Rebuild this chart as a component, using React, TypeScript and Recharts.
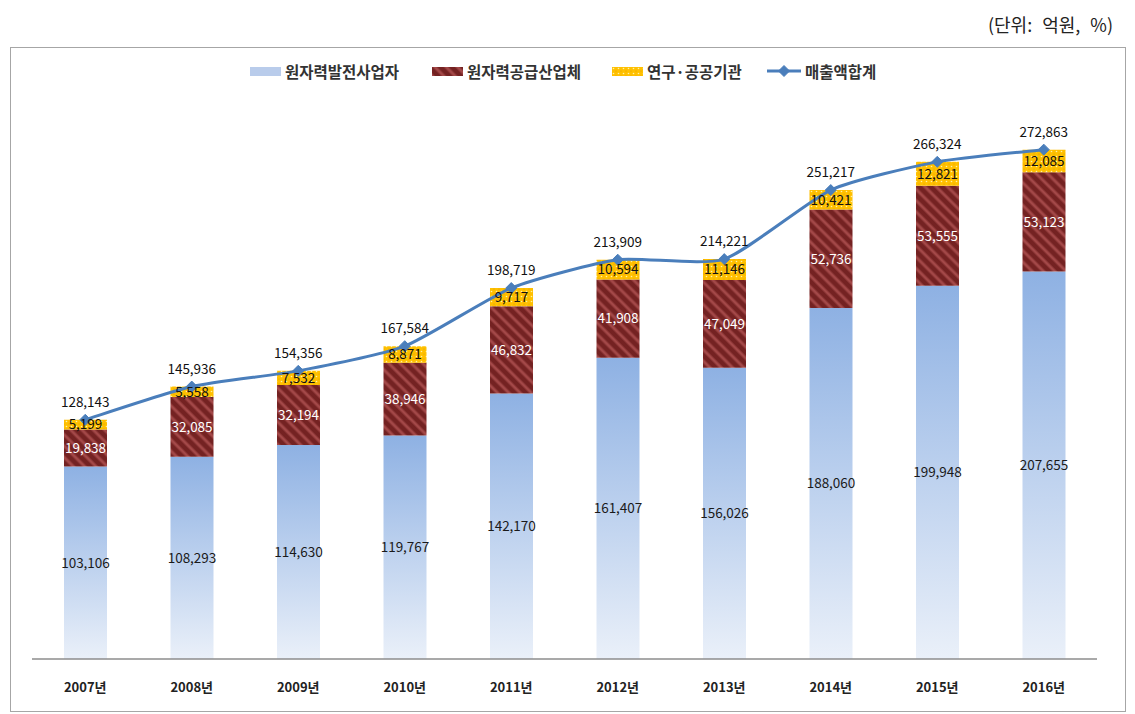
import * as React from 'react';
import {
  ComposedChart, Bar, Line, XAxis, YAxis, LabelList,
} from 'recharts';

// 원자력산업 매출액 추이 (단위: 억원)
const years = ['2007년', '2008년', '2009년', '2010년', '2011년', '2012년', '2013년', '2014년', '2015년', '2016년'];
const generation = [103106, 108293, 114630, 119767, 142170, 161407, 156026, 188060, 199948, 207655];
const supply = [19838, 32085, 32194, 38946, 46832, 41908, 47049, 52736, 53555, 53123];
const research = [5199, 5558, 7532, 8871, 9717, 10594, 11146, 10421, 12821, 12085];
const totals = [128143, 145936, 154356, 167584, 198719, 213909, 214221, 251217, 266324, 272863];

const seriesNames = ['원자력발전사업자', '원자력공급산업체', '연구·공공기관', '매출액합계'];

const data = years.map((y, i) => ({
  year: y,
  generation: generation[i],
  supply: supply[i],
  research: research[i],
  total: totals[i],
}));

const FONT = '"Noto Sans CJK KR", "Noto Sans", sans-serif';
const LINE = '#4a7ebb';
const fmt = (v: any) => Number(v).toLocaleString('en-US');

// Excel-style "smoothed line": softened Catmull-Rom through every point
const smoothCurve = (context: any) => {
  let pts: [number, number][] = [];
  return {
    areaStart() {},
    areaEnd() {},
    lineStart() { pts = []; },
    point(x: number, y: number) { pts.push([+x, +y]); },
    lineEnd() {
      const n = pts.length;
      if (!n) return;
      context.moveTo(pts[0][0], pts[0][1]);
      const k = 0.1;
      for (let i = 0; i < n - 1; i++) {
        const p0 = pts[Math.max(i - 1, 0)];
        const p1 = pts[i];
        const p2 = pts[i + 1];
        const p3 = pts[Math.min(i + 2, n - 1)];
        context.bezierCurveTo(
          p1[0] + k * (p2[0] - p0[0]), p1[1] + k * (p2[1] - p0[1]),
          p2[0] - k * (p3[0] - p1[0]), p2[1] - k * (p3[1] - p1[1]),
          p2[0], p2[1],
        );
      }
    },
  };
};

const Diamond = (props: any) => {
  const { cx, cy } = props;
  if (cx == null || cy == null) return null;
  const r = 5.5;
  return (
    <polygon
      points={`${cx},${cy - r} ${cx + r},${cy} ${cx},${cy + r} ${cx - r},${cy}`}
      fill={LINE}
      stroke={LINE}
      strokeWidth={1}
    />
  );
};

function Patterns({ prefix }: { prefix: string }) {
  return (
    <defs>
      <linearGradient id={`${prefix}-blue`} x1="0" y1="0" x2="0" y2="1">
        <stop offset="0%" stopColor="#8eb1e3" />
        <stop offset="100%" stopColor="#eaf0f9" />
      </linearGradient>
      <pattern id={`${prefix}-hatch`} width="8" height="8" patternUnits="userSpaceOnUse" patternTransform="rotate(-45)">
        <rect width="8" height="8" fill="#742222" />
        <line x1="2" y1="0" x2="2" y2="8" stroke="#a34848" strokeWidth="3" />
      </pattern>
      <pattern id={`${prefix}-dots`} width="5" height="5" patternUnits="userSpaceOnUse">
        <rect width="5" height="5" fill="#ffc000" />
        <circle cx="1.5" cy="1.5" r="0.8" fill="#fff1a8" />
        <circle cx="4" cy="4" r="0.6" fill="#e09a00" />
      </pattern>
    </defs>
  );
}

function LegendSwatch({ kind }: { kind: 'blue' | 'hatch' | 'dots' }) {
  return (
    <svg width={31} height={9} style={{ display: 'block' }}>
      <Patterns prefix={`lg-${kind}`} />
      <rect width={31} height={9} fill={kind === 'blue' ? '#b9cceb' : `url(#lg-${kind}-${kind})`} />
    </svg>
  );
}

function ChartLegend() {
  const item = (swatch: React.ReactNode, label: string, left: number) => (
    <div style={{ position: 'absolute', left, top: 0, display: 'flex', alignItems: 'center', gap: 4 }}>
      {swatch}
      <span>{label}</span>
    </div>
  );
  return (
    <div
      style={{
        position: 'absolute', left: 0, top: 59, width: 1135, height: 24,
        fontFamily: FONT, fontSize: 15.5, fontWeight: 700, color: '#333', lineHeight: '24px',
      }}
    >
      {item(<LegendSwatch kind="blue" />, seriesNames[0], 250)}
      {item(<LegendSwatch kind="hatch" />, seriesNames[1], 432)}
      {item(<LegendSwatch kind="dots" />, seriesNames[2], 612)}
      {item(
        <svg width={34} height={12} style={{ display: 'block' }}>
          <line x1={0} y1={6} x2={34} y2={6} stroke={LINE} strokeWidth={3} />
          <Diamond cx={17} cy={6} />
        </svg>,
        seriesNames[3], 767,
      )}
    </div>
  );
}

export default function App() {
  return (
    <div style={{ position: 'absolute', left: 0, top: 0, width: 1135, height: 714, background: '#fff', fontFamily: FONT }}>
      <div style={{ position: 'absolute', right: 22, top: 11, fontSize: 18, color: '#222', wordSpacing: 6 }}>
        (단위: 억원, %)
      </div>
      <div style={{ position: 'absolute', left: 10, top: 47, width: 1114, height: 663, border: '1px solid #a6a6a6' }} />
      <ChartLegend />
      <div style={{ position: 'absolute', left: 0, top: 0 }}>
        <ComposedChart
          width={1135}
          height={714}
          data={data}
          margin={{ top: 99, right: 38, bottom: 25, left: 32 }}
        >
          <Patterns prefix="c" />
          <XAxis
            dataKey="year"
            height={30}
            axisLine={{ stroke: '#8c8c8c', strokeWidth: 1.5 }}
            tickLine={false}
            tick={{ fontSize: 13, fontWeight: 700, fill: '#222', fontFamily: FONT, dy: 16 }}
          />
          <YAxis hide domain={[0, 300000]} />
          <Bar dataKey="generation" stackId="a" fill="url(#c-blue)" barSize={43} isAnimationActive={false}>
            <LabelList dataKey="generation" position="center" formatter={fmt}
              style={{ fontSize: 13.5, fill: '#1a1a1a', fontFamily: FONT }} />
          </Bar>
          <Bar dataKey="supply" stackId="a" fill="url(#c-hatch)" barSize={43} isAnimationActive={false}>
            <LabelList dataKey="supply" position="center" formatter={fmt}
              style={{ fontSize: 13.5, fill: '#ffffff', fontFamily: FONT }} />
          </Bar>
          <Bar dataKey="research" stackId="a" fill="url(#c-dots)" barSize={43} isAnimationActive={false}>
            <LabelList dataKey="research" position="center" formatter={fmt}
              style={{ fontSize: 13.5, fill: '#111', fontFamily: FONT }} />
          </Bar>
          <Line
            type={smoothCurve as any}
            dataKey="total"
            stroke={LINE}
            strokeWidth={3}
            dot={<Diamond />}
            activeDot={false}
            isAnimationActive={false}
          >
            <LabelList dataKey="total" position="top" offset={13} formatter={fmt}
              style={{ fontSize: 13.5, fill: '#111', fontFamily: FONT }} />
          </Line>
        </ComposedChart>
      </div>
    </div>
  );
}
